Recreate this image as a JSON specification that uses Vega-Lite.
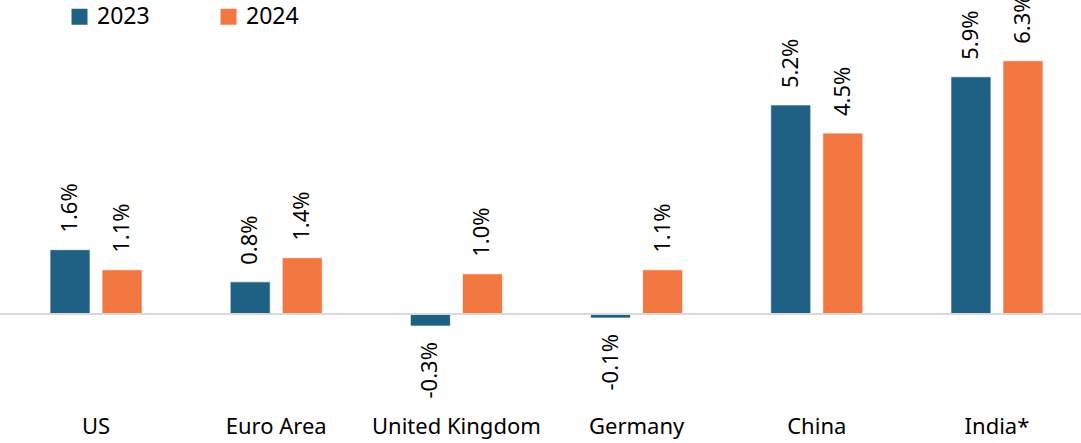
{
  "$schema": "https://vega.github.io/schema/vega-lite/v6.json",
  "width": 1081,
  "height": 410,
  "autosize": {"type": "none"},
  "padding": {"left": 0, "top": 0, "right": 0, "bottom": 33},
  "background": "white",
  "config": {"view": {"stroke": null}, "font": "Noto Sans"},
  "data": {
    "values": [
      {"country": "US", "year": "2023", "value": 1.6, "label": "1.6%"},
      {"country": "US", "year": "2024", "value": 1.1, "label": "1.1%"},
      {"country": "Euro Area", "year": "2023", "value": 0.8, "label": "0.8%"},
      {"country": "Euro Area", "year": "2024", "value": 1.4, "label": "1.4%"},
      {"country": "United Kingdom", "year": "2023", "value": -0.3, "label": "-0.3%"},
      {"country": "United Kingdom", "year": "2024", "value": 1.0, "label": "1.0%"},
      {"country": "Germany", "year": "2023", "value": -0.1, "label": "-0.1%"},
      {"country": "Germany", "year": "2024", "value": 1.1, "label": "1.1%"},
      {"country": "China", "year": "2023", "value": 5.2, "label": "5.2%"},
      {"country": "China", "year": "2024", "value": 4.5, "label": "4.5%"},
      {"country": "India*", "year": "2023", "value": 5.9, "label": "5.9%"},
      {"country": "India*", "year": "2024", "value": 6.3, "label": "6.3%"}
    ]
  },
  "encoding": {
    "x": {
      "field": "country",
      "type": "nominal",
      "sort": null,
      "scale": {"range": [50, 1043], "paddingInner": 0.489, "paddingOuter": 0},
      "axis": {
        "title": null,
        "orient": "bottom",
        "domain": false,
        "ticks": false,
        "labelAngle": 0,
        "labelFontSize": 22,
        "labelColor": "#000000",
        "labelPadding": 6,
        "labelFont": "Noto Sans"
      }
    },
    "xOffset": {
      "field": "year",
      "type": "nominal",
      "scale": {"paddingInner": 0.2308, "paddingOuter": 0}
    }
  },
  "layer": [
    {
      "mark": {"type": "bar", "stroke": "#ffffff", "strokeWidth": 1, "strokeOpacity": 0.7},
      "encoding": {
        "y": {
          "field": "value",
          "type": "quantitative",
          "scale": {"domain": [-2.388, 7.811], "nice": false, "zero": false},
          "axis": null
        },
        "color": {
          "field": "year",
          "type": "nominal",
          "scale": {"domain": ["2023", "2024"], "range": ["#1f6184", "#f27741"]},
          "legend": {
            "title": null,
            "orient": "none",
            "direction": "horizontal",
            "legendX": 68,
            "legendY": 5,
            "symbolType": "square",
            "symbolSize": 256,
            "symbolStrokeWidth": 0,
            "labelFontSize": 23,
            "labelFont": "Noto Sans",
            "labelColor": "#000000",
            "labelOffset": 6,
            "columnPadding": 67
          }
        }
      }
    },
    {
      "mark": {"type": "rule", "color": "#d9d9d9", "strokeWidth": 2},
      "encoding": {"y": {"datum": 0, "type": "quantitative"}, "x": null, "xOffset": null}
    },
    {
      "transform": [{"filter": "datum.value >= 0"}],
      "mark": {"type": "text", "angle": -90, "align": "left", "baseline": "middle", "dx": 17, "fontSize": 22, "font": "Noto Sans", "color": "#000000"},
      "encoding": {
        "y": {"field": "value", "type": "quantitative"},
        "text": {"field": "label", "type": "nominal"}
      }
    },
    {
      "transform": [{"filter": "datum.value < 0"}],
      "mark": {"type": "text", "angle": -90, "align": "right", "baseline": "middle", "dx": -16, "fontSize": 22, "font": "Noto Sans", "color": "#000000"},
      "encoding": {
        "y": {"field": "value", "type": "quantitative"},
        "text": {"field": "label", "type": "nominal"}
      }
    }
  ]
}
